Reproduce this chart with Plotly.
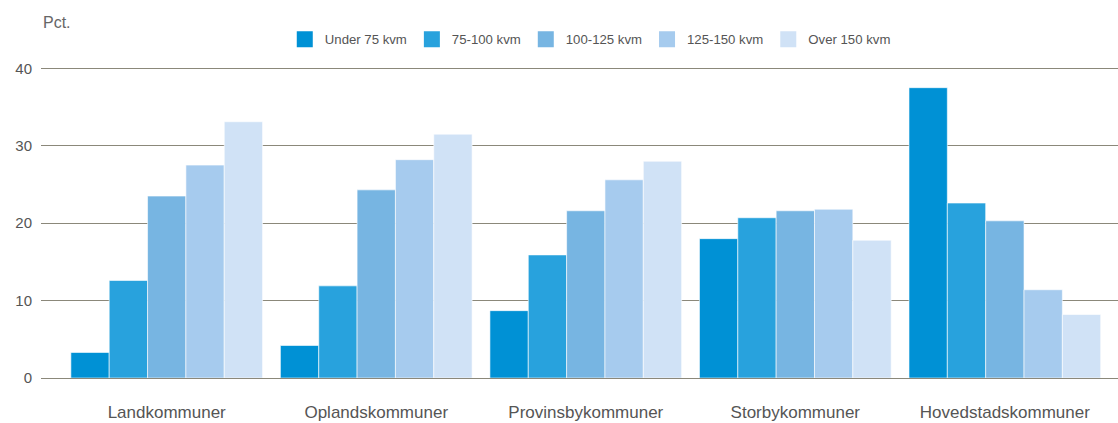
import plotly.graph_objects as go

categories = ["Landkommuner", "Oplandskommuner", "Provinsbykommuner", "Storbykommuner", "Hovedstadskommuner"]
series_names = ["Under 75 kvm", "75-100 kvm", "100-125 kvm", "125-150 kvm", "Over 150 kvm"]
under75 = [3.3, 4.2, 8.7, 18.0, 37.5]
v75_100 = [12.6, 11.9, 15.9, 20.7, 22.6]
v100_125 = [23.5, 24.3, 21.6, 21.6, 20.3]
v125_150 = [27.5, 28.2, 25.6, 21.8, 11.4]
over150 = [33.1, 31.5, 28.0, 17.8, 8.2]
series_values = [under75, v75_100, v100_125, v125_150, over150]
colors = ["#0091d5", "#28a2dd", "#77b5e2", "#a6cbee", "#d0e2f6"]
y_ticks = [0, 10, 20, 30, 40]

fig = go.Figure()
for name, vals, col in zip(series_names, series_values, colors):
    fig.add_trace(go.Bar(
        x=categories, y=vals, name=name, showlegend=False,
        marker=dict(color=col, line=dict(color="rgba(255,255,255,0.6)", width=1)),
    ))
    fig.add_trace(go.Scatter(
        x=[None], y=[None], name=name, mode="markers",
        marker=dict(symbol="square", size=17, color=col),
    ))

gc = "#8b887a"
fig.update_layout(
    width=1118, height=423,
    margin=dict(l=41, r=0, t=66, b=45),
    paper_bgcolor="white", plot_bgcolor="white",
    barmode="group", bargap=0.085, bargroupgap=0,
    font=dict(family="Liberation Sans, Arial, sans-serif", color="#666666"),
    legend=dict(orientation="h", x=0.51, xanchor="center", y=1.035, yanchor="bottom",
                xref="paper", font=dict(size=13.2, color="#555555"),
                itemsizing="trace", bgcolor="rgba(0,0,0,0)", traceorder="normal"),
    xaxis=dict(range=[-0.6, 4.54], showgrid=False, showline=False, ticks="", automargin=False,
               tickfont=dict(size=17, color="#555555"), ticklabelstandoff=22),
    yaxis=dict(range=[0, 40.3], tickvals=y_ticks, showgrid=True, gridcolor=gc, gridwidth=1,
               zeroline=True, zerolinecolor=gc, zerolinewidth=1, showline=False, automargin=False,
               tickfont=dict(size=15, color="#555555"), ticklabelstandoff=8),
    annotations=[dict(text="Pct.", xref="paper", yref="paper", x=0.0, y=1.0,
                      xanchor="left", yanchor="bottom", yshift=33, showarrow=False,
                      font=dict(size=16, color="#666666"))],
)
fig.write_html("out.html")
